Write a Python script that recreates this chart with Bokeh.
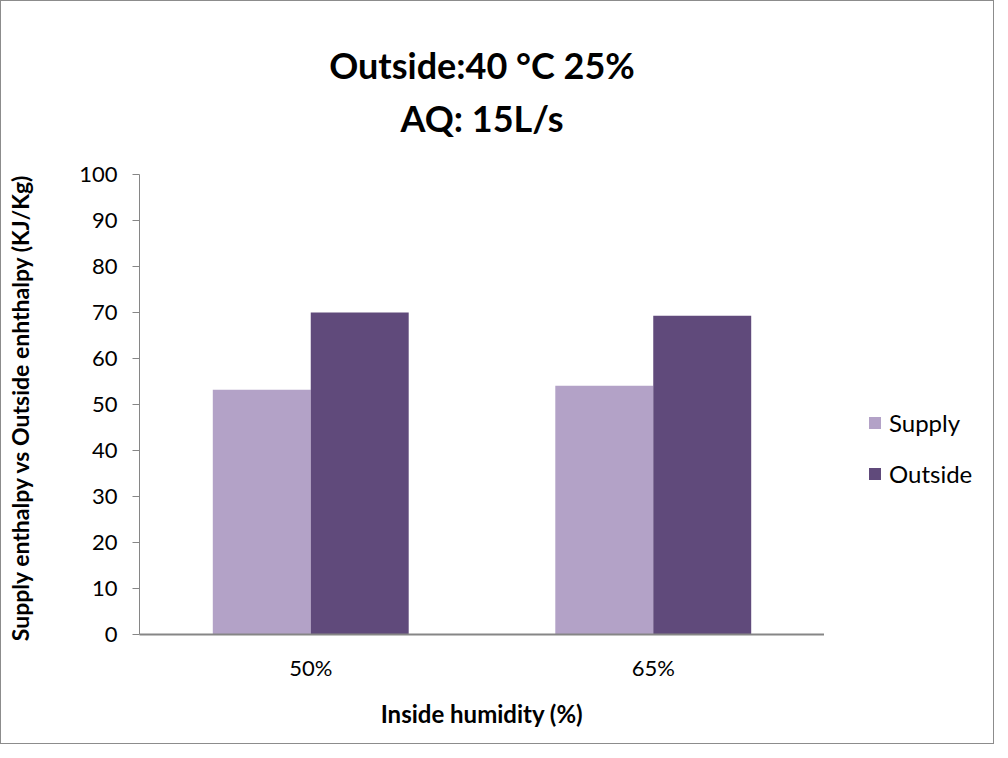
from bokeh.plotting import figure
from bokeh.layouts import row
from bokeh.models import ColumnDataSource, FactorRange, Legend, LegendItem, Title
from bokeh.transform import dodge
from bokeh.embed import file_html
from bokeh.resources import INLINE

categories = ["50%", "65%"]
series_names = ["Supply", "Outside"]
supply = [53.2, 54.1]
outside = [70.0, 69.3]
y_ticks = list(range(0, 101, 10))
title_line1 = "Outside:40 °C 25%"
title_line2 = "AQ: 15L/s"
x_title = "Inside humidity (%)"
y_title = "Supply enthalpy vs Outside enhthalpy  (KJ/Kg)"

FONT = "Lato"
C_SUP = "#B3A2C7"
C_OUT = "#604A7B"
AX = "#868686"

src = ColumnDataSource(dict(cat=categories, supply=supply, outside=outside))
xr = FactorRange(*categories, range_padding=0)

p = figure(width=823, height=742, x_range=xr,
           y_range=(0, 100), output_backend="svg", toolbar_location=None,
           min_border_left=138, min_border_right=0, min_border_top=173, min_border_bottom=109)
p.title = None

r1 = p.vbar(x=dodge("cat", -0.143, range=xr), top="supply", width=0.286, source=src,
            fill_color=C_SUP, line_color=None)
r2 = p.vbar(x=dodge("cat", 0.143, range=xr), top="outside", width=0.286, source=src,
            fill_color=C_OUT, line_color=None)

p.xgrid.visible = False
p.ygrid.visible = False
p.outline_line_color = None

p.yaxis.ticker = y_ticks
p.yaxis.axis_line_color = AX
p.yaxis.major_tick_line_color = AX
p.yaxis.major_tick_out = 7
p.yaxis.major_tick_in = 0
p.yaxis.minor_tick_line_color = None
p.yaxis.major_label_text_font = FONT
p.yaxis.major_label_text_font_size = "22px"
p.yaxis.major_label_text_color = "#000000"
p.yaxis.major_label_standoff = 15
p.yaxis.axis_label = y_title
p.yaxis.axis_label_text_font = FONT
p.yaxis.axis_label_text_font_size = "23px"
p.yaxis.axis_label_text_font_style = "bold"
p.yaxis.axis_label_text_color = "#000000"
p.yaxis.axis_label_standoff = 42

p.xaxis.axis_line_color = AX
p.xaxis.axis_line_width = 2
p.xaxis.major_tick_line_color = None
p.xaxis.minor_tick_line_color = None
p.xaxis.major_label_text_font = FONT
p.xaxis.major_label_text_font_size = "22px"
p.xaxis.major_label_text_color = "#000000"
p.xaxis.major_label_standoff = 13
p.xaxis.axis_label = x_title
p.xaxis.axis_label_text_font = FONT
p.xaxis.axis_label_text_font_size = "24px"
p.xaxis.axis_label_text_font_style = "bold"
p.xaxis.axis_label_text_color = "#000000"
p.xaxis.axis_label_standoff = 15

t2 = Title(text=title_line2, align="center", text_font=FONT, text_font_size="36px",
           text_font_style="bold", text_color="#000000", standoff=70)
t1 = Title(text=title_line1, align="center", text_font=FONT, text_font_size="36px",
           text_font_style="bold", text_color="#000000", standoff=-56)
p.add_layout(t2, "above")
p.add_layout(t1, "above")

# legend panel: hidden copies of the bar renderers, only their legend is shown
lf = figure(width=169, height=742, x_range=xr, y_range=(0, 100),
            output_backend="svg", toolbar_location=None,
            min_border_left=0, min_border_right=0, min_border_top=0, min_border_bottom=0)
lf.title = None
lf.axis.visible = False
lf.grid.visible = False
lf.outline_line_color = None
l1 = lf.vbar(x=dodge("cat", -0.143, range=xr), top="supply", width=0.286, source=src,
             fill_color=C_SUP, line_color=None, visible=False)
l2 = lf.vbar(x=dodge("cat", 0.143, range=xr), top="outside", width=0.286, source=src,
             fill_color=C_OUT, line_color=None, visible=False)
legend = Legend(items=[LegendItem(label=series_names[0], renderers=[l1]),
                       LegendItem(label=series_names[1], renderers=[l2])],
                location=(43, 146), label_text_font=FONT, label_text_font_size="24px",
                label_text_color="#000000", glyph_width=15, glyph_height=15,
                spacing=22, padding=0, margin=0, border_line_color=None,
                background_fill_alpha=0, label_standoff=7,
                inactive_fill_alpha=0)
lf.add_layout(legend, "center")

layout = row(p, lf)
layout.styles = {"border": "1px solid #8c8c8c"}

open("out.html", "w").write(file_html(layout, INLINE))
